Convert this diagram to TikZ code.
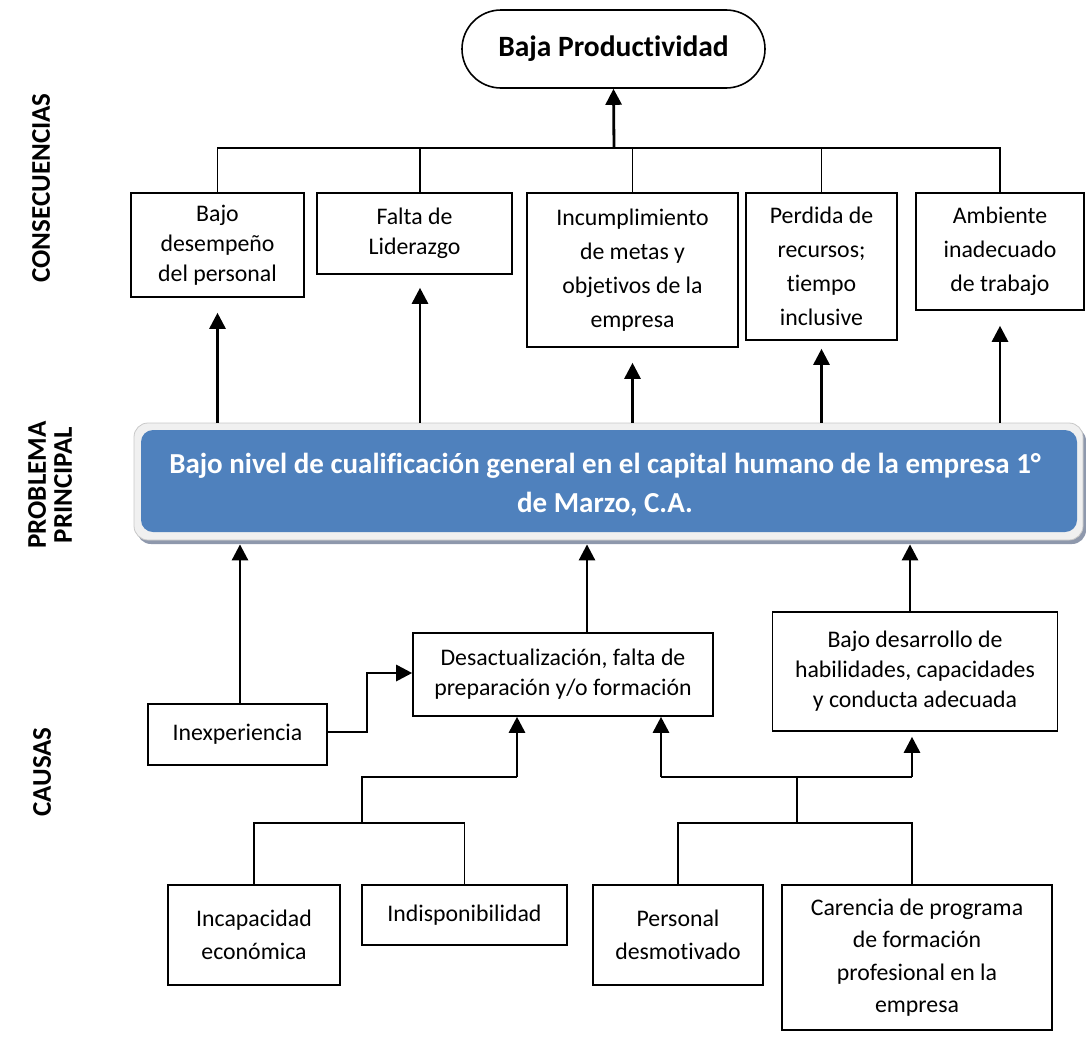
\documentclass[tikz,border=0pt]{standalone}
\usepackage{fontspec}
\setmainfont{Carlito}[Ligatures=NoCommon]
\usetikzlibrary{arrows.meta,shadows,calc}
\definecolor{probblue}{HTML}{4F81BD}
\definecolor{framegray}{HTML}{F0F0F0}
\definecolor{frameline}{HTML}{C8C8C8}
\definecolor{shadowc}{HTML}{8E98AC}
\tikzset{
  box/.style={draw, line width=1.6pt, align=center, inner sep=0pt,
    font=\fontsize{23.8}{30}\selectfont},
  tallbox/.style={box, font=\fontsize{23.8}{34}\selectfont},
  lowbox/.style={box, font=\fontsize{23.8}{32.5}\selectfont},
  conn/.style={line width=1.6pt},
  arr/.style={line width=2.8pt, -{Triangle[length=16pt,width=16pt]}},
  sidelabel/.style={rotate=90, font=\bfseries\fontsize{27}{26}\selectfont, align=center}
}
\begin{document}
\begin{tikzpicture}[x=1pt,y=-1pt]
\useasboundingbox (0,0) rectangle (1086,1036);

% side labels
\node[sidelabel] (lcons) at (41,188) {CONSECUENCIAS};
\node[sidelabel] (lprob) at (50,485) {PROBLEMA\\PRINCIPAL};
\node[sidelabel] (lcaus) at (42,772) {CAUSAS};

% top consequence
\node[draw, line width=1.6pt, rounded corners=39pt, minimum width=303pt, minimum height=78pt,
      font=\bfseries\fontsize{29.5}{30}\selectfont] (bp) at (613.5,49) {Baja Productividad};

% consequence boxes
\node[box, minimum width=173pt, minimum height=104pt] (c1) at (217.5,245) {Bajo\\desempeño\\del personal};
\node[box, minimum width=195pt, minimum height=81pt] (c2) at (414.5,233.5) {Falta de\\Liderazgo};
\node[tallbox, minimum width=211pt, minimum height=154pt] (c3) at (632.5,270) {Incumplimiento\\de metas y\\objetivos de la\\empresa};
\node[tallbox, minimum width=151pt, minimum height=147pt] (c4) at (821.5,266.5) {Perdida de\\recursos;\\tiempo\\inclusive};
\node[tallbox, minimum width=168pt, minimum height=117pt] (c5) at (1000,251.5) {Ambiente\\inadecuado\\de trabajo};

% main problem
\node[draw=frameline, line width=0.8pt, fill=framegray, rounded corners=14pt,
      minimum width=949pt, minimum height=117pt,
      drop shadow={shadow xshift=3pt, shadow yshift=-4pt, fill=shadowc, opacity=1}] (main) at (608.5,481.5) {};
\node[fill=probblue, rounded corners=12pt, minimum width=936pt, minimum height=102pt,
      inner sep=0pt] (prob) at (609,481) {};
\node[text=white, align=center, inner sep=0pt,
      font=\bfseries\fontsize{29}{39}\selectfont] (probtext) at (605,485)
      {Bajo nivel de cualificación general en el capital humano de la empresa 1°\\de Marzo, C.A.};

% cause boxes
\node[box, minimum width=179pt, minimum height=61pt] (inex) at (237.5,734.5) {Inexperiencia};
\node[box, minimum width=300pt, minimum height=83pt] (desa) at (563,674.5) {Desactualización, falta de\\preparación y/o formación};
\node[box, minimum width=285pt, minimum height=119pt] (bdes) at (915,671.5) {Bajo desarrollo de\\habilidades, capacidades\\y conducta adecuada};

% root causes
\node[lowbox, minimum width=172pt, minimum height=100pt] (inca) at (254,935) {Incapacidad\\económica};
\node[lowbox, minimum width=205pt, minimum height=60pt] (indi) at (464.5,915) {Indisponibilidad};
\node[lowbox, minimum width=170pt, minimum height=100pt] (pers) at (678,935) {Personal\\desmotivado};
\node[lowbox, minimum width=270pt, minimum height=145pt] (care) at (917,957.5) {Carencia de programa\\de formación\\profesional en la\\empresa};

% top tree
\coordinate (top) at (614,148);
\draw[conn] (c1.north) |- (c5.north |- top) -- (c5.north);
\draw[conn] ([xshift=5.5pt]c2.north) -- ([xshift=5.5pt]c2.north |- top);
\draw[conn] (c3.north) -- (c3.north |- top);
\draw[conn] (c4.north) -- (c4.north |- top);
\draw[arr] (top) -- (bp.south);

% problem -> consequences
\draw[arr] (c1.south |- main.north) -- ([yshift=-15pt]c1.south);
\draw[arr] ([xshift=5.5pt]c2.south |- main.north) -- ([xshift=5.5pt,yshift=-13pt]c2.south);
\draw[arr] (c3.south |- main.north) -- ([yshift=-15pt]c3.south);
\draw[arr] (c4.south |- main.north) -- ([yshift=-8pt]c4.south);
\draw[arr] (c5.south |- main.north) -- ([yshift=-15pt]c5.south);

% causes -> problem
\draw[arr] ([xshift=2.5pt]inex.north) -- ([xshift=2.5pt,yshift=-4pt]inex.north |- main.south);
\draw[arr] ([xshift=24pt]desa.north) -- ([xshift=24pt,yshift=-4pt]desa.north |- main.south);
\draw[arr] ([xshift=-5pt]bdes.north) -- ([xshift=-5pt,yshift=-4pt]bdes.north |- main.south);

% inexperiencia -> desactualizacion
\coordinate (ib) at (367,732);
\draw[arr] (inex.east |- ib) -- (ib) |- (desa.west |- 0,673);

% lower left tree
\coordinate (j1) at (517,777);
\coordinate (j2) at (362,777);
\coordinate (j3) at (362,823);
\draw[arr] (j1) -- (j1 |- desa.south);
\draw[conn] (j1) -- (j2) -- (j3);
\draw[conn] (inca.north) |- (j3) -| (indi.north);

% lower right tree
\coordinate (kl) at (661,777);
\coordinate (kr) at (912,777);
\coordinate (k1) at (797,777);
\coordinate (k2) at (797,823);
\draw[arr] (kl) -- (kl |- desa.south);
\draw[arr] (kr) -- ([yshift=-5pt]kr |- bdes.south);
\draw[conn] (kl) -- (kr);
\draw[conn] (k1) -- (k2);
\draw[conn] (pers.north) |- (k2) -- (k2 -| kr) -- (kr |- care.north);
\end{tikzpicture}
\end{document}
